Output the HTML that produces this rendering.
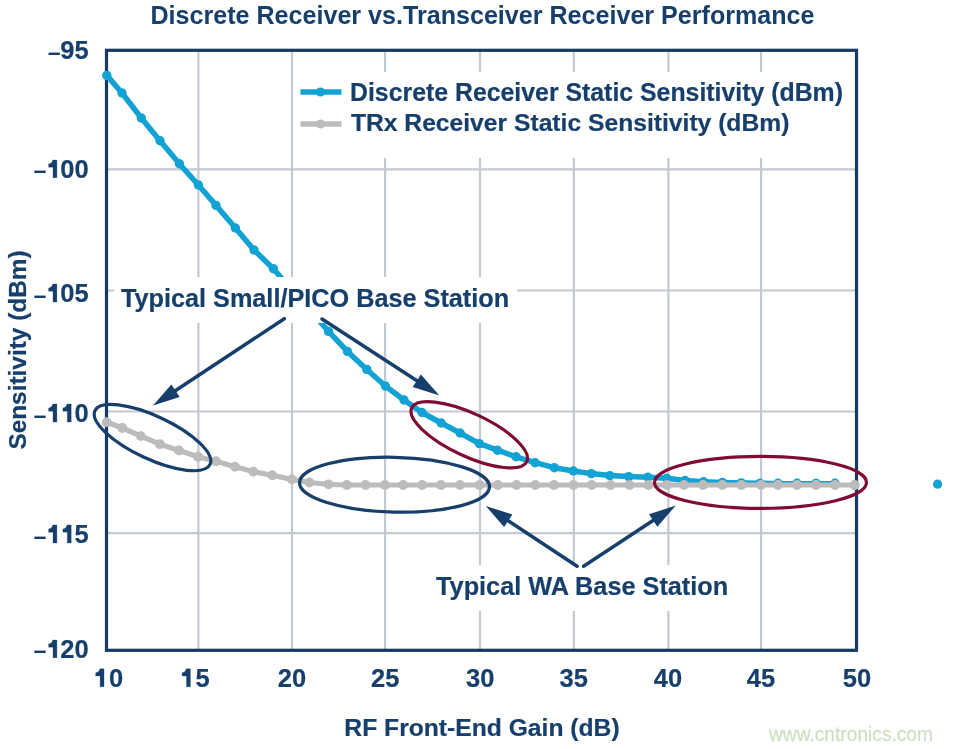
<!DOCTYPE html>
<html><head><meta charset="utf-8"><style>
html,body{margin:0;padding:0;background:#fff;width:953px;height:749px;overflow:hidden}
svg{display:block;will-change:transform}
text{font-family:"Liberation Sans",sans-serif;font-weight:bold;fill:#173f6b;stroke:#173f6b;stroke-width:0.2px}
.nk{font-kerning:none}
.h{fill-opacity:0;stroke-opacity:0}
</style></head><body>
<svg width="953" height="749" viewBox="0 0 953 749">
<rect width="953" height="749" fill="#fff"/>
<line x1="198.4" y1="50" x2="198.4" y2="650" stroke="#c3c9d1" stroke-width="2.2"/><line x1="292" y1="50" x2="292" y2="650" stroke="#c3c9d1" stroke-width="2.2"/><line x1="385.1" y1="50" x2="385.1" y2="650" stroke="#c3c9d1" stroke-width="2.2"/><line x1="480" y1="50" x2="480" y2="650" stroke="#c3c9d1" stroke-width="2.2"/><line x1="573.8" y1="50" x2="573.8" y2="650" stroke="#c3c9d1" stroke-width="2.2"/><line x1="668.4" y1="50" x2="668.4" y2="650" stroke="#c3c9d1" stroke-width="2.2"/><line x1="761.1" y1="50" x2="761.1" y2="650" stroke="#c3c9d1" stroke-width="2.2"/><line x1="106" y1="169.3" x2="856" y2="169.3" stroke="#c3c9d1" stroke-width="2.2"/><line x1="106" y1="290.5" x2="856" y2="290.5" stroke="#c3c9d1" stroke-width="2.2"/><line x1="106" y1="411.5" x2="856" y2="411.5" stroke="#c3c9d1" stroke-width="2.2"/><line x1="106" y1="533.1" x2="856" y2="533.1" stroke="#c3c9d1" stroke-width="2.2"/>
<rect x="106.5" y="50.3" width="750" height="600" fill="none" stroke="#163a63" stroke-width="3.2"/>
<path d="M106.8,75.4 L122.0,93.0 L141.3,118.0 L160.0,140.7 L179.4,163.8 L198.4,185.0 L216.0,205.4 L235.4,228.0 L254.0,250.0 L273.4,268.8 L292.0,290.0 L310.7,311.0 L328.5,331.4 L347.4,351.4 L366.8,369.4 L385.4,386.0 L404.0,400.0 L422.0,412.5 L441.2,423.0 L460.1,433.0 L479.3,443.6 L497.5,450.2 L516.0,456.8 L535.1,462.7 L554.4,467.7 L573.4,471.0 L591.3,473.6 L609.8,475.6 L628.7,476.6 L647.9,477.2 L666.8,478.3 L685.0,480.5 L703.5,481.8 L722.4,482.5 L741.3,482.9 L760.0,483.3 L778.5,483.7 L797.0,483.8 L816.0,483.8 L835.0,483.8" fill="none" stroke="#12a2d4" stroke-width="5.5" stroke-linejoin="round" stroke-linecap="round"/>
<circle cx="106.8" cy="75.4" r="4.7" fill="#12a2d4"/><circle cx="122.0" cy="93.0" r="4.7" fill="#12a2d4"/><circle cx="141.3" cy="118.0" r="4.7" fill="#12a2d4"/><circle cx="160.0" cy="140.7" r="4.7" fill="#12a2d4"/><circle cx="179.4" cy="163.8" r="4.7" fill="#12a2d4"/><circle cx="198.4" cy="185.0" r="4.7" fill="#12a2d4"/><circle cx="216.0" cy="205.4" r="4.7" fill="#12a2d4"/><circle cx="235.4" cy="228.0" r="4.7" fill="#12a2d4"/><circle cx="254.0" cy="250.0" r="4.7" fill="#12a2d4"/><circle cx="273.4" cy="268.8" r="4.7" fill="#12a2d4"/><circle cx="292.0" cy="290.0" r="4.7" fill="#12a2d4"/><circle cx="310.7" cy="311.0" r="4.7" fill="#12a2d4"/><circle cx="328.5" cy="331.4" r="4.7" fill="#12a2d4"/><circle cx="347.4" cy="351.4" r="4.7" fill="#12a2d4"/><circle cx="366.8" cy="369.4" r="4.7" fill="#12a2d4"/><circle cx="385.4" cy="386.0" r="4.7" fill="#12a2d4"/><circle cx="404.0" cy="400.0" r="4.7" fill="#12a2d4"/><circle cx="422.0" cy="412.5" r="4.7" fill="#12a2d4"/><circle cx="441.2" cy="423.0" r="4.7" fill="#12a2d4"/><circle cx="460.1" cy="433.0" r="4.7" fill="#12a2d4"/><circle cx="479.3" cy="443.6" r="4.7" fill="#12a2d4"/><circle cx="497.5" cy="450.2" r="4.7" fill="#12a2d4"/><circle cx="516.0" cy="456.8" r="4.7" fill="#12a2d4"/><circle cx="535.1" cy="462.7" r="4.7" fill="#12a2d4"/><circle cx="554.4" cy="467.7" r="4.7" fill="#12a2d4"/><circle cx="573.4" cy="471.0" r="4.7" fill="#12a2d4"/><circle cx="591.3" cy="473.6" r="4.7" fill="#12a2d4"/><circle cx="609.8" cy="475.6" r="4.7" fill="#12a2d4"/><circle cx="628.7" cy="476.6" r="4.7" fill="#12a2d4"/><circle cx="647.9" cy="477.2" r="4.7" fill="#12a2d4"/><circle cx="666.8" cy="478.3" r="4.7" fill="#12a2d4"/><circle cx="685.0" cy="480.5" r="4.7" fill="#12a2d4"/><circle cx="703.5" cy="481.8" r="4.7" fill="#12a2d4"/><circle cx="722.4" cy="482.5" r="4.7" fill="#12a2d4"/><circle cx="741.3" cy="482.9" r="4.7" fill="#12a2d4"/><circle cx="760.0" cy="483.2" r="4.7" fill="#12a2d4"/><circle cx="778.0" cy="483.3" r="4.7" fill="#12a2d4"/><circle cx="797.0" cy="483.3" r="4.7" fill="#12a2d4"/><circle cx="816.0" cy="483.3" r="4.7" fill="#12a2d4"/><circle cx="835.0" cy="483.3" r="4.7" fill="#12a2d4"/><circle cx="854.7" cy="485.0" r="4.7" fill="#12a2d4"/>
<path d="M106.7,422.2 L122.4,428.0 L140.8,436.1 L159.9,444.2 L179.0,450.5 L198.0,456.7 L216.0,461.2 L235.0,466.7 L253.2,471.6 L272.2,475.2 L291.8,479.4 L309.4,482.5 L328.5,484.3 L346.9,485.0 L365.5,485.0 L385.0,485.0 L403.1,485.0 L422.1,485.0 L441.0,485.0 L460.0,485.0 L479.5,485.0 L497.8,485.0 L516.5,485.0 L535.3,485.0 L554.0,485.0 L573.5,485.0 L591.7,485.0 L610.6,485.0 L629.6,485.0 L648.5,485.0 L667.0,485.0 L684.1,485.0 L703.0,485.0 L722.4,485.0 L741.3,485.0 L761.0,485.0 L777.9,485.0 L797.0,485.0 L816.0,485.0 L835.0,485.0 L854.7,485.0" fill="none" stroke="#bcbcbc" stroke-width="5.2" stroke-linejoin="round" stroke-linecap="round"/>
<circle cx="106.7" cy="422.2" r="4.9" fill="#bcbcbc"/><circle cx="122.4" cy="428.0" r="4.9" fill="#bcbcbc"/><circle cx="140.8" cy="436.1" r="4.9" fill="#bcbcbc"/><circle cx="159.9" cy="444.2" r="4.9" fill="#bcbcbc"/><circle cx="179.0" cy="450.5" r="4.9" fill="#bcbcbc"/><circle cx="198.0" cy="456.7" r="4.9" fill="#bcbcbc"/><circle cx="216.0" cy="461.2" r="4.9" fill="#bcbcbc"/><circle cx="235.0" cy="466.7" r="4.9" fill="#bcbcbc"/><circle cx="253.2" cy="471.6" r="4.9" fill="#bcbcbc"/><circle cx="272.2" cy="475.2" r="4.9" fill="#bcbcbc"/><circle cx="291.8" cy="479.4" r="4.9" fill="#bcbcbc"/><circle cx="309.4" cy="482.5" r="4.9" fill="#bcbcbc"/><circle cx="328.5" cy="484.3" r="4.9" fill="#bcbcbc"/><circle cx="346.9" cy="485.0" r="4.9" fill="#bcbcbc"/><circle cx="365.5" cy="485.0" r="4.9" fill="#bcbcbc"/><circle cx="385.0" cy="485.0" r="4.9" fill="#bcbcbc"/><circle cx="403.1" cy="485.0" r="4.9" fill="#bcbcbc"/><circle cx="422.1" cy="485.0" r="4.9" fill="#bcbcbc"/><circle cx="441.0" cy="485.0" r="4.9" fill="#bcbcbc"/><circle cx="460.0" cy="485.0" r="4.9" fill="#bcbcbc"/><circle cx="479.5" cy="485.0" r="4.9" fill="#bcbcbc"/><circle cx="497.8" cy="485.0" r="4.9" fill="#bcbcbc"/><circle cx="516.5" cy="485.0" r="4.9" fill="#bcbcbc"/><circle cx="535.3" cy="485.0" r="4.9" fill="#bcbcbc"/><circle cx="554.0" cy="485.0" r="4.9" fill="#bcbcbc"/><circle cx="573.5" cy="485.0" r="4.9" fill="#bcbcbc"/><circle cx="591.7" cy="485.0" r="4.9" fill="#bcbcbc"/><circle cx="610.6" cy="485.0" r="4.9" fill="#bcbcbc"/><circle cx="629.6" cy="485.0" r="4.9" fill="#bcbcbc"/><circle cx="648.5" cy="485.0" r="4.9" fill="#bcbcbc"/><circle cx="667.0" cy="485.0" r="4.9" fill="#bcbcbc"/><circle cx="684.1" cy="485.0" r="4.9" fill="#bcbcbc"/><circle cx="703.0" cy="485.0" r="4.9" fill="#bcbcbc"/><circle cx="722.4" cy="485.0" r="4.9" fill="#bcbcbc"/><circle cx="741.3" cy="485.0" r="4.9" fill="#bcbcbc"/><circle cx="761.0" cy="485.0" r="4.9" fill="#bcbcbc"/><circle cx="777.9" cy="485.0" r="4.9" fill="#bcbcbc"/><circle cx="797.0" cy="485.0" r="4.9" fill="#bcbcbc"/><circle cx="816.0" cy="485.0" r="4.9" fill="#bcbcbc"/><circle cx="835.0" cy="485.0" r="4.9" fill="#bcbcbc"/><circle cx="854.7" cy="485.0" r="4.9" fill="#bcbcbc"/>
<circle cx="937.6" cy="484.2" r="4.6" fill="#12a2d4"/>
<rect x="295" y="72" width="559" height="86" fill="#fff"/><rect x="114" y="277" width="403" height="46" fill="#fff"/><rect x="430" y="565" width="305" height="46" fill="#fff"/>
<ellipse cx="152.5" cy="437.6" rx="63.5" ry="21.4" transform="rotate(25 152.5 437.6)" fill="none" stroke="#173f6b" stroke-width="3.2"/><ellipse cx="469.25" cy="434.8" rx="63.5" ry="21.4" transform="rotate(25 469.25 434.8)" fill="none" stroke="#7f0c33" stroke-width="3.2"/><ellipse cx="394.5" cy="484.7" rx="95" ry="27.4" transform="rotate(1.3 394.5 484.7)" fill="none" stroke="#173f6b" stroke-width="3.2"/><ellipse cx="760.5" cy="482.4" rx="106" ry="26" fill="none" stroke="#7f0c33" stroke-width="3.2"/>
<line x1="284.3" y1="318.7" x2="173.0" y2="392.3" stroke="#173f6b" stroke-width="3.5" stroke-linecap="round"/><polygon points="153.0,405.5 171.4,384.4 179.7,396.9" fill="#173f6b"/>
<line x1="322.0" y1="319.0" x2="419.3" y2="382.3" stroke="#173f6b" stroke-width="3.5" stroke-linecap="round"/><polygon points="439.4,395.4 412.7,387.0 420.9,374.4" fill="#173f6b"/>
<line x1="577.1" y1="566.2" x2="505.7" y2="519.1" stroke="#173f6b" stroke-width="3.5" stroke-linecap="round"/><polygon points="485.7,505.9 512.4,514.5 504.1,527.0" fill="#173f6b"/>
<line x1="583.6" y1="566.2" x2="655.7" y2="518.8" stroke="#173f6b" stroke-width="3.5" stroke-linecap="round"/><polygon points="675.7,505.6 657.3,526.7 649.0,514.2" fill="#173f6b"/>
<line x1="300.5" y1="92" x2="341.5" y2="92" stroke="#12a2d4" stroke-width="5.5"/><circle cx="320.5" cy="92" r="4.6" fill="#12a2d4"/><line x1="300.5" y1="124" x2="341.5" y2="124" stroke="#bcbcbc" stroke-width="5.5"/><circle cx="320.5" cy="124" r="4.6" fill="#bcbcbc"/>
<text x="482.5" y="23.8" font-size="25.1" text-anchor="middle" style="stroke-width:0">Discrete Receiver vs.Transceiver Receiver Performance</text>
<text x="350" y="100.5" font-size="24.85" text-anchor="start">Discrete Receiver Static Sensitivity (dBm)</text>
<text x="350.9" y="131" font-size="24.66" text-anchor="start">TRx Receiver Static Sensitivity (dBm)</text>
<text x="120.9" y="307" font-size="25.26" text-anchor="start">Typical Small/PICO Base Station</text>
<text x="436" y="595" font-size="25.29" text-anchor="start">Typical WA Base Station</text>
<text x="482" y="736" font-size="24.67" text-anchor="middle">RF Front-End Gain (dB)</text>
<text x="88.6" y="59" font-size="25.5" text-anchor="end" class="nk"><tspan dy="0.6" font-size="22.5">–</tspan><tspan dy="-0.6" dx="-0.2">95</tspan></text>
<text x="88.6" y="177.7" font-size="25.5" text-anchor="end" class="nk"><tspan dy="0.6" font-size="22.5">–</tspan><tspan dy="-0.6" dx="-0.2"><tspan class="h">1</tspan>00</tspan></text>
<text x="88.6" y="302" font-size="25.5" text-anchor="end" class="nk"><tspan dy="0.6" font-size="22.5">–</tspan><tspan dy="-0.6" dx="-0.2"><tspan class="h">1</tspan>05</tspan></text>
<text x="88.6" y="422" font-size="25.5" text-anchor="end" class="nk"><tspan dy="0.6" font-size="22.5">–</tspan><tspan dy="-0.6" dx="-0.2"><tspan class="h">1</tspan><tspan class="h">1</tspan>0</tspan></text>
<text x="88.6" y="543" font-size="25.5" text-anchor="end" class="nk"><tspan dy="0.6" font-size="22.5">–</tspan><tspan dy="-0.6" dx="-0.2"><tspan class="h">1</tspan><tspan class="h">1</tspan>5</tspan></text>
<text x="88.6" y="657.7" font-size="25.5" text-anchor="end" class="nk"><tspan dy="0.6" font-size="22.5">–</tspan><tspan dy="-0.6" dx="-0.2"><tspan class="h">1</tspan>20</tspan></text>
<text x="108.9" y="686.7" font-size="25.5" text-anchor="middle" class="nk"><tspan class="h">1</tspan>0</text>
<text x="195.5" y="686.7" font-size="25.5" text-anchor="middle" class="nk"><tspan class="h">1</tspan>5</text>
<text x="292" y="686.7" font-size="25.5" text-anchor="middle">20</text>
<text x="385.3" y="686.7" font-size="25.5" text-anchor="middle">25</text>
<text x="480.2" y="686.7" font-size="25.5" text-anchor="middle">30</text>
<text x="573.7" y="686.7" font-size="25.5" text-anchor="middle">35</text>
<text x="668" y="686.7" font-size="25.5" text-anchor="middle">40</text>
<text x="761" y="686.7" font-size="25.5" text-anchor="middle">45</text>
<text x="857" y="686.7" font-size="25.5" text-anchor="middle">50</text>
<text x="26" y="350" font-size="24.4" text-anchor="middle" transform="rotate(-90 26 350)">Sensitivity (dBm)</text>
<text x="769" y="740.5" font-size="21" textLength="164" lengthAdjust="spacingAndGlyphs" style="font-weight:normal;fill:#cbe0c1;stroke:#d3e6ca;stroke-width:0.3px">www.cntronics.com</text>
<polygon points="56.90,160.00 56.90,177.70 53.00,177.70 53.00,167.20 48.60,167.20 48.60,164.00 50.30,163.50 51.90,162.20 52.80,160.00" fill="#173f6b" stroke="#173f6b" stroke-width="0.3"/><polygon points="56.90,284.00 56.90,302.00 53.00,302.00 53.00,291.20 48.60,291.20 48.60,288.00 50.30,287.50 51.90,286.20 52.80,284.00" fill="#173f6b" stroke="#173f6b" stroke-width="0.3"/><polygon points="56.90,404.00 56.90,422.00 53.00,422.00 53.00,411.20 48.60,411.20 48.60,408.00 50.30,407.50 51.90,406.20 52.80,404.00" fill="#173f6b" stroke="#173f6b" stroke-width="0.3"/><polygon points="71.20,404.00 71.20,422.00 67.30,422.00 67.30,411.20 62.90,411.20 62.90,408.00 64.60,407.50 66.20,406.20 67.10,404.00" fill="#173f6b" stroke="#173f6b" stroke-width="0.3"/><polygon points="56.90,525.00 56.90,543.00 53.00,543.00 53.00,532.20 48.60,532.20 48.60,529.00 50.30,528.50 51.90,527.20 52.80,525.00" fill="#173f6b" stroke="#173f6b" stroke-width="0.3"/><polygon points="71.20,525.00 71.20,543.00 67.30,543.00 67.30,532.20 62.90,532.20 62.90,529.00 64.60,528.50 66.20,527.20 67.10,525.00" fill="#173f6b" stroke="#173f6b" stroke-width="0.3"/><polygon points="56.90,640.00 56.90,657.70 53.00,657.70 53.00,647.20 48.60,647.20 48.60,644.00 50.30,643.50 51.90,642.20 52.80,640.00" fill="#173f6b" stroke="#173f6b" stroke-width="0.3"/><polygon points="104.00,668.80 104.00,686.70 100.10,686.70 100.10,676.00 95.70,676.00 95.70,672.80 97.40,672.30 99.00,671.00 99.90,668.80" fill="#173f6b" stroke="#173f6b" stroke-width="0.3"/><polygon points="190.40,668.80 190.40,686.70 186.50,686.70 186.50,676.00 182.10,676.00 182.10,672.80 183.80,672.30 185.40,671.00 186.30,668.80" fill="#173f6b" stroke="#173f6b" stroke-width="0.3"/></svg></body></html>
